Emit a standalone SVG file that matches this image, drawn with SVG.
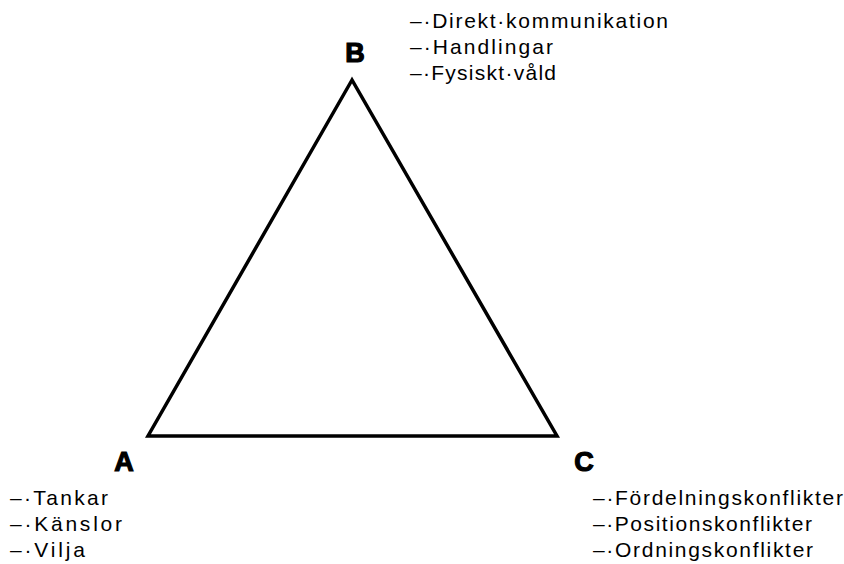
<svg xmlns="http://www.w3.org/2000/svg" width="844" height="564" viewBox="0 0 844 564">
<style>
.lbl{font-family:"Liberation Sans",Arial,sans-serif;font-weight:900;font-size:27px;fill:#000;stroke:#000;stroke-width:1.2}
.itm{font-family:"Liberation Sans",Arial,sans-serif;font-size:21px;fill:#000}
</style>
<rect width="844" height="564" fill="#fff"/>
<g id="connectors">
<polygon points="352,80 148,436 557,436" fill="none" stroke="#000" stroke-width="3.5" stroke-linejoin="miter"/>
</g>
<g id="node-B">
<text class="lbl" x="355" y="62" text-anchor="middle">B</text>
<text class="itm" x="410" y="28" textLength="258" lengthAdjust="spacing">–·Direkt·kommunikation</text>
<text class="itm" x="410" y="54" textLength="143" lengthAdjust="spacing">–·Handlingar</text>
<text class="itm" x="410" y="80" textLength="146" lengthAdjust="spacing">–·Fysiskt·våld</text>
</g>
<g id="node-A">
<text class="lbl" x="124" y="471" text-anchor="middle">A</text>
<text class="itm" x="10" y="505" textLength="98" lengthAdjust="spacing">–·Tankar</text>
<text class="itm" x="10" y="531" textLength="112" lengthAdjust="spacing">–·Känslor</text>
<text class="itm" x="10" y="557" textLength="75" lengthAdjust="spacing">–·Vilja</text>
</g>
<g id="node-C">
<text class="lbl" x="584" y="471" text-anchor="middle">C</text>
<text class="itm" x="593" y="505" textLength="250" lengthAdjust="spacing">–·Fördelningskonflikter</text>
<text class="itm" x="593" y="531" textLength="219" lengthAdjust="spacing">–·Positionskonflikter</text>
<text class="itm" x="593" y="557" textLength="220" lengthAdjust="spacing">–·Ordningskonflikter</text>
</g>
</svg>
